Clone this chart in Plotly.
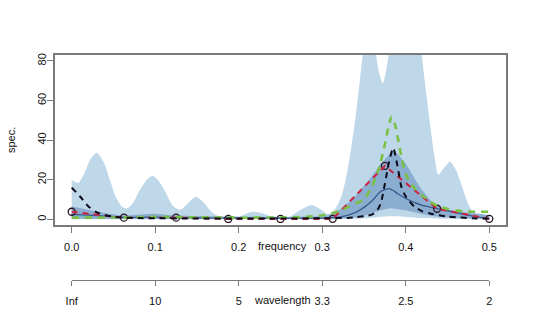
import plotly.graph_objects as go

# ---------------- data ----------------
freq_outer = [0.000, 0.004, 0.008, 0.015, 0.022, 0.030, 0.038, 0.046, 0.053, 0.060, 0.066, 0.073,
              0.082, 0.090, 0.097, 0.104, 0.112, 0.121, 0.130, 0.140, 0.149, 0.158, 0.168, 0.178,
              0.190, 0.200, 0.210, 0.218, 0.228, 0.240, 0.250, 0.262, 0.275, 0.287, 0.298, 0.306,
              0.312, 0.318, 0.324, 0.330, 0.335, 0.340, 0.345, 0.3485, 0.352, 0.356, 0.360, 0.3645,
              0.368, 0.3725, 0.376, 0.3795, 0.385, 0.392, 0.400, 0.408, 0.414, 0.419, 0.425, 0.430,
              0.435, 0.439, 0.445, 0.453, 0.460, 0.467, 0.473, 0.480, 0.490, 0.500]
outer_hi = [19.8, 18.8, 18.4, 23, 30, 33.6, 29, 19.5, 11, 6.5, 5.5, 8,
            15, 20, 22, 19.5, 14, 6.8, 4.8, 8.5, 11.4, 8.5, 3.5, 1,
            0.6, 1.2, 3, 3.8, 3, 1.2, 0.6, 1.5, 5, 7.2, 5, 2.5,
            3.5, 7, 13, 24, 37, 52, 70, 83, 95, 100, 96, 83,
            74, 68.7, 74, 83, 100, 110, 112, 105, 95, 83, 62, 45,
            30, 22.5, 25.5, 29, 25, 17, 9.5, 4, 2, 1.5]

freq_outer_lo = [0.0, 0.1, 0.2, 0.3, 0.34, 0.36, 0.38, 0.40, 0.42, 0.45, 0.5]
outer_lo = [0.0, 0.0, 0.0, 0.0, 0.3, 0.8, 1.5, 1.2, 0.6, 0.2, 0.0]

freq_inner = [0.00, 0.02, 0.04, 0.06, 0.08, 0.10, 0.12, 0.15, 0.20, 0.25, 0.28, 0.30, 0.31,
              0.32, 0.33, 0.34, 0.35, 0.36, 0.37, 0.38, 0.385, 0.39, 0.40, 0.41, 0.42, 0.43,
              0.44, 0.45, 0.46, 0.48, 0.50]
inner_hi = [6.4, 4.8, 3.2, 2.0, 2.3, 2.8, 2.0, 1.6, 1.3, 1.2, 1.3, 1.5, 2.5,
            4.5, 8, 12, 17, 22, 28, 32.5, 34, 33, 28, 21, 14.5, 9.5,
            6.5, 5, 4, 3, 2.2]
inner_lo = [0.4, 0.3, 0.2, 0.1, 0.1, 0.1, 0.1, 0.1, 0.1, 0.1, 0.1, 0.1, 0.2,
            0.3, 0.5, 1, 1.8, 3, 4.5, 5.5, 5.5, 5.2, 4.5, 3.5, 2.5, 1.8,
            1.4, 1, 0.8, 0.5, 0.3]
median = [2.5, 2.1, 1.6, 1.1, 1.0, 1.1, 0.9, 0.7, 0.5, 0.5, 0.5, 0.6, 0.8,
          1.1, 2, 3.5, 6, 9.5, 14, 15.5, 14.5, 13, 10.5, 8.5, 7, 6,
          5.2, 4.3, 3.3, 1.6, 0.3]

freq_green = [0.00, 0.05, 0.10, 0.15, 0.20, 0.25, 0.28, 0.30, 0.31, 0.32, 0.33, 0.34, 0.35,
              0.36, 0.365, 0.37, 0.375, 0.379, 0.383, 0.387, 0.391, 0.395, 0.40, 0.405, 0.41,
              0.42, 0.43, 0.44, 0.45, 0.46, 0.47, 0.48, 0.50]
green = [0.8, 0.9, 1.2, 1.0, 0.8, 0.9, 1.2, 2, 2.8, 4, 6, 8, 10,
         17, 22, 29, 38, 46, 51.8, 48, 40, 31, 23, 18.5, 16,
         12, 8.5, 6.5, 5.2, 4.5, 4, 3.8, 3.8]

freq_black = [0.00, 0.01, 0.02, 0.03, 0.04, 0.05, 0.06, 0.08, 0.10, 0.15, 0.20, 0.25, 0.30,
              0.33, 0.34, 0.35, 0.36, 0.365, 0.37, 0.375, 0.38, 0.385, 0.39, 0.395, 0.40,
              0.41, 0.42, 0.43, 0.44, 0.45, 0.46, 0.48, 0.50]
black = [16, 11.5, 6.5, 3.5, 2, 1.3, 0.9, 0.6, 0.5, 0.4, 0.4, 0.4, 0.5,
         0.7, 1, 1.5, 2.5, 4, 8, 18, 29, 36, 27, 16, 11.5,
         6.5, 4, 2.8, 2, 1.4, 1, 0.5, 0.3]

freq_pgram = [0.0, 0.0625, 0.125, 0.1875, 0.25, 0.3125, 0.375, 0.4375, 0.5]
pgram = [3.8, 0.8, 0.8, 0.15, 0.15, 0.2, 27, 5.3, 0.2]

freq_ticks = [0.0, 0.1, 0.2, 0.3, 0.4, 0.5]
freq_labels = ["0.0", "0.1", "0.2", "0.3", "0.4", "0.5"]
wave_labels = ["Inf", "10", "5", "3.3", "2.5", "2"]
y_ticks = [0, 20, 40, 60, 80]
y_labels = ["0", "20", "40", "60", "80"]

# ---------------- styles ----------------
LIGHT = "rgb(190,215,233)"
MED = "rgb(138,173,208)"
DARK = "rgb(55,90,140)"
GREEN = "rgb(122,192,68)"
RED = "rgb(205,35,65)"
BLK = "rgb(10,10,25)"
GREY = "#7a7a7a"
FONT = "Liberation Sans, Arial, Helvetica, sans-serif"
SPL = dict(shape="spline", smoothing=0.7)

X_RANGE = [-0.02, 0.52]
span = X_RANGE[1] - X_RANGE[0]
wave_domain = [(freq_ticks[0] - X_RANGE[0]) / span, (freq_ticks[-1] - X_RANGE[0]) / span]

fig = go.Figure()
fig.add_trace(go.Scatter(x=freq_outer_lo, y=outer_lo, mode="lines",
                         line=dict(width=0, **SPL), showlegend=False, hoverinfo="skip"))
fig.add_trace(go.Scatter(x=freq_outer, y=outer_hi, mode="lines", fill="tonexty",
                         fillcolor=LIGHT, line=dict(width=0, **SPL), showlegend=False))
fig.add_trace(go.Scatter(x=freq_inner, y=inner_lo, mode="lines",
                         line=dict(width=0, **SPL), showlegend=False, hoverinfo="skip"))
fig.add_trace(go.Scatter(x=freq_inner, y=inner_hi, mode="lines", fill="tonexty",
                         fillcolor=MED, line=dict(width=0, **SPL), showlegend=False))
fig.add_trace(go.Scatter(x=freq_inner, y=median, mode="lines",
                         line=dict(width=1.3, color=DARK, **SPL), showlegend=False))
fig.add_trace(go.Scatter(x=freq_pgram, y=pgram, mode="markers",
                         marker=dict(symbol="circle-open", size=7, color="rgb(40,20,30)",
                                     line=dict(width=1.3)), showlegend=False))
fig.add_trace(go.Scatter(x=freq_pgram, y=pgram, mode="lines",
                         line=dict(width=2, color=RED, dash="6px,5px"), showlegend=False))
fig.add_trace(go.Scatter(x=freq_green, y=green, mode="lines",
                         line=dict(width=2.6, color=GREEN, dash="7px,6px", **SPL), showlegend=False))
fig.add_trace(go.Scatter(x=freq_black, y=black, mode="lines",
                         line=dict(width=2, color=BLK, dash="6px,5px", **SPL), showlegend=False))
# invisible trace to anchor the wavelength axis
fig.add_trace(go.Scatter(x=[freq_ticks[0], freq_ticks[-1]], y=[None, None], xaxis="x2",
                         mode="lines", showlegend=False, hoverinfo="skip"))

fig.update_layout(
    width=534, height=334,
    margin=dict(l=55, r=28, t=55, b=30),
    paper_bgcolor="white", plot_bgcolor="rgba(0,0,0,0)",
    font=dict(family=FONT, size=11, color="#111"),
    xaxis=dict(range=X_RANGE, domain=[0, 1], anchor="y",
               tickvals=freq_ticks, ticktext=freq_labels,
               ticks="outside", ticklen=6, tickcolor=GREY, tickwidth=1,
               showline=True, mirror=True, linecolor=GREY, linewidth=1.5,
               showgrid=False, zeroline=False, ticklabelstandoff=5),
    xaxis2=dict(range=[freq_ticks[0], freq_ticks[-1]], domain=wave_domain, anchor="free",
                position=24 / 249,
                tickvals=freq_ticks, ticktext=wave_labels,
                ticks="outside", ticklen=5, tickcolor=GREY, tickwidth=1,
                showline=True, linecolor=GREY, linewidth=1,
                showgrid=False, zeroline=False, ticklabelstandoff=6),
    yaxis=dict(range=[-2.9, 83], domain=[79 / 249, 1],
               tickvals=y_ticks, ticktext=y_labels, tickangle=-90,
               ticks="outside", ticklen=6, tickcolor=GREY, tickwidth=1,
               showline=True, mirror=True, linecolor=GREY, linewidth=1.5,
               showgrid=False, zeroline=False, ticklabelstandoff=-3),
    annotations=[
        dict(text="frequency", x=0.252, y=79 / 249, xref="x", yref="paper",
             yshift=-21, showarrow=False, xanchor="center", yanchor="middle",
             font=dict(size=11, family=FONT, color="#111")),
        dict(text="wavelength", x=0.252, y=24 / 249, xref="x", yref="paper",
             yshift=-20, showarrow=False, xanchor="center", yanchor="middle",
             font=dict(size=11, family=FONT, color="#111")),
        dict(text="spec.", x=-44 / 451, y=(304 - 140) / 249, xref="paper", yref="paper",
             textangle=-90, showarrow=False, xanchor="center", yanchor="middle",
             font=dict(size=11, family=FONT, color="#111")),
    ],
)

fig.write_html("out.html")
